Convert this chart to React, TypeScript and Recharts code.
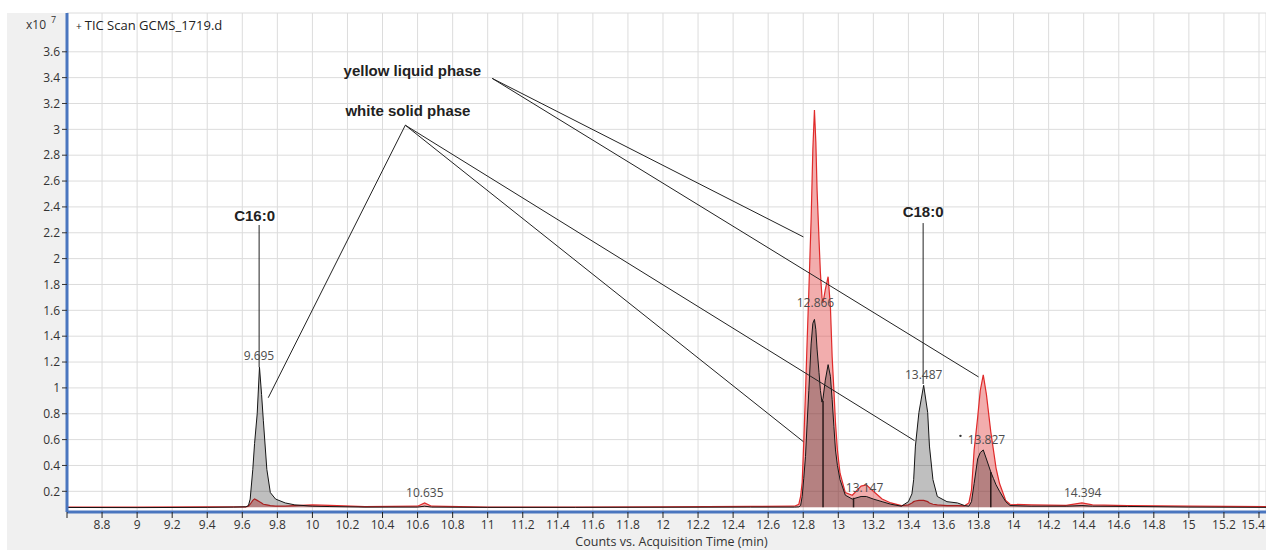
import React from 'react';
import {
  ComposedChart,
  Area,
  XAxis,
  YAxis,
  CartesianGrid,
  ReferenceLine,
  ReferenceDot,
} from 'recharts';

// acquisition time (min)
const times = [
  8.6, 9.0, 9.4, 9.55, 9.62, 9.635, 9.645, 9.66, 9.67, 9.685, 9.698, 9.71, 9.72, 9.74, 9.76,
  9.79, 9.845, 9.9, 10.0, 10.1, 10.3, 10.6, 10.64, 10.68, 11.0, 11.5, 12.0, 12.5, 12.75,
  12.775, 12.785, 12.794, 12.803, 12.813, 12.822, 12.832, 12.845, 12.855, 12.864, 12.872,
  12.879, 12.89, 12.898, 12.907, 12.913, 12.926, 12.942, 12.955, 12.965, 12.975, 12.984,
  12.995, 13.01, 13.04, 13.08, 13.13, 13.16, 13.2, 13.25, 13.3, 13.36, 13.4, 13.42, 13.43,
  13.44, 13.46, 13.487, 13.51, 13.52, 13.54, 13.565, 13.62, 13.68, 13.72, 13.745, 13.76,
  13.775, 13.795, 13.81, 13.827, 13.845, 13.87, 13.885, 13.9, 13.92, 13.955, 13.98, 14.1,
  14.3, 14.39, 14.45, 14.65, 15.0, 15.44,
];

// white solid phase (x10^7 counts)
const solidPhase = [
  0.075, 0.074, 0.076, 0.078, 0.08, 0.09, 0.14, 0.37, 0.57, 0.8, 1.16, 0.95, 0.75, 0.37, 0.19,
  0.14, 0.11, 0.095, 0.085, 0.082, 0.078, 0.078, 0.085, 0.078, 0.076, 0.076, 0.077, 0.078, 0.078,
  0.08, 0.09, 0.16, 0.3, 0.47, 0.72, 0.98, 1.34, 1.5, 1.53, 1.45,
  1.3, 1.12, 0.98, 0.89, 0.92, 1.06, 1.18, 1.09, 0.91, 0.7, 0.52,
  0.4, 0.29, 0.17, 0.14, 0.16, 0.16, 0.14, 0.12, 0.1, 0.085, 0.12, 0.18, 0.29,
  0.55, 0.81, 1.02, 0.81, 0.55, 0.29, 0.16, 0.12, 0.11, 0.09, 0.085, 0.12,
  0.26, 0.45, 0.5, 0.52, 0.45, 0.35, 0.3, 0.25, 0.2, 0.12, 0.09, 0.085,
  0.085, 0.09, 0.085, 0.083, 0.078, 0.076,
];

// yellow liquid phase (x10^7 counts)
const liquidPhase = [
  0.078, 0.078, 0.08, 0.079, 0.08, 0.085, 0.1, 0.13, 0.14, 0.13, 0.12, 0.11, 0.1, 0.095, 0.09,
  0.085, 0.085, 0.09, 0.095, 0.092, 0.082, 0.085, 0.11, 0.085, 0.078, 0.078, 0.08, 0.083, 0.085,
  0.1, 0.16, 0.27, 0.58, 0.97, 1.35, 1.75, 2.3, 2.85, 3.15, 2.9,
  2.53, 2.15, 1.89, 1.7, 1.66, 1.76, 1.86, 1.63, 1.24, 0.98, 0.73,
  0.52, 0.34, 0.19, 0.17, 0.24, 0.25, 0.2, 0.14, 0.11, 0.09, 0.095, 0.11, 0.12,
  0.125, 0.13, 0.13, 0.12, 0.11, 0.1, 0.095, 0.09, 0.09, 0.088, 0.11, 0.21,
  0.52, 0.77, 0.98, 1.1, 0.95, 0.66, 0.52, 0.38, 0.26, 0.13, 0.1, 0.095,
  0.092, 0.11, 0.095, 0.09, 0.085, 0.082,
];

const xTicks = [
  8.6, 8.8, 9, 9.2, 9.4, 9.6, 9.8, 10, 10.2, 10.4, 10.6, 10.8, 11, 11.2, 11.4, 11.6, 11.8, 12,
  12.2, 12.4, 12.6, 12.8, 13, 13.2, 13.4, 13.6, 13.8, 14, 14.2, 14.4, 14.6, 14.8, 15, 15.2, 15.4,
];
const yTicks = [
  0.2, 0.4, 0.6, 0.8, 1, 1.2, 1.4, 1.6, 1.8, 2, 2.2, 2.4, 2.6, 2.8, 3, 3.2, 3.4, 3.6,
];

// peak retention-time labels
const peakLabels = [
  { text: '9.695', t: 9.695, v: 1.245 },
  { text: '10.635', t: 10.641, v: 0.19 },
  { text: '12.866', t: 12.87, v: 1.66 },
  { text: '13.147', t: 13.15, v: 0.228 },
  { text: '13.487', t: 13.487, v: 1.1 },
  { text: '13.827', t: 13.845, v: 0.6 },
  { text: '14.394', t: 14.394, v: 0.19 },
];

// bold annotations
const callouts = [
  { text: 'yellow liquid phase', t: 10.57, v: 3.456 },
  { text: 'white solid phase', t: 10.545, v: 3.147 },
  { text: 'C16:0', t: 9.67, v: 2.33 },
  { text: 'C18:0', t: 13.484, v: 2.36 },
];

// leader lines [t1, v1, t2, v2]
const leaders = [
  [11.026, 3.394, 12.801, 2.168],
  [11.026, 3.394, 13.8, 1.085],
  [10.53, 3.032, 9.748, 0.924],
  [10.53, 3.032, 12.801, 0.584],
  [10.53, 3.032, 13.435, 0.592],
  [9.696, 2.26, 9.696, 1.16],
  [13.484, 2.275, 13.484, 1.03],
];

// integration split markers [t, top]
const splits = [
  [12.913, 0.9],
  [13.087, 0.15],
  [13.87, 0.35],
];

const chartData = times.map((t, i) => ({
  t,
  solid: solidPhase[i],
  liquid: liquidPhase[i],
}));

const BLUE = '#4a76bf';
const CHART_W = 1266;

// x tick label, kept inside the right edge for the last tick
const TimeTick = (props: any) => {
  const { x, y, payload } = props;
  const v = payload.value;
  if (v === 8.6) return null;
  const label = String(v);
  const nearEdge = x + 12 > CHART_W;
  return (
    <text
      x={nearEdge ? CHART_W - 1 : x}
      y={y}
      dy="0.71em"
      textAnchor={nearEdge ? 'end' : 'middle'}
      fill="#333"
      fontSize={12}
    >
      {label}
    </text>
  );
};

export default function App() {
  return (
    <div
      style={{
        position: 'fixed',
        left: 0,
        top: 0,
        width: CHART_W,
        height: 550,
        overflow: 'hidden',
        background: '#fff',
        fontFamily: '"Open Sans", sans-serif',
      }}
    >
      <div
        style={{
          position: 'absolute',
          left: 7,
          top: 13,
          width: 1259,
          height: 537,
          background: '#f0f0f0',
        }}
      />
      <div style={{ position: 'absolute', left: 0, top: 0, width: CHART_W, height: 550 }}>
        <ComposedChart
          width={CHART_W}
          height={550}
          data={chartData}
          margin={{ top: 13, right: 0, bottom: 0, left: 7 }}
        >
          <CartesianGrid fill="#fff" stroke="#dcdcdc" strokeWidth={1} />
          <XAxis
            dataKey="t"
            type="number"
            domain={[8.6, 15.44]}
            ticks={xTicks}
            interval={0}
            allowDataOverflow
            height={38}
            axisLine={{ stroke: BLUE, strokeWidth: 3 }}
            tickLine={{ stroke: '#222' }}
            tickSize={6}
            tick={<TimeTick />}
            label={{
              value: 'Counts vs. Acquisition Time (min)',
              position: 'insideBottom',
              offset: 4,
              dx: 5,
              fill: '#333',
              fontSize: 12.5,
            }}
          />
          <YAxis
            type="number"
            domain={[0.04, 3.9]}
            ticks={yTicks}
            interval={0}
            allowDataOverflow
            width={60}
            axisLine={{ stroke: BLUE, strokeWidth: 3 }}
            tickLine={{ stroke: '#333' }}
            tickSize={5}
            tick={{ fill: '#333', fontSize: 12 }}
          />
          <Area
            type="linear"
            dataKey="liquid"
            baseValue={0.076}
            stroke="#e02a2a"
            strokeWidth={1.2}
            fill="#e03c3c"
            fillOpacity={0.42}
            dot={false}
            activeDot={false}
            isAnimationActive={false}
          />
          <Area
            type="linear"
            dataKey="solid"
            baseValue={0.076}
            stroke="#151515"
            strokeWidth={1}
            fill="#000"
            fillOpacity={0.25}
            dot={false}
            activeDot={false}
            isAnimationActive={false}
          />
          {splits.map(([t, top], i) => (
            <ReferenceLine
              key={'s' + i}
              segment={[
                { x: t, y: 0.076 },
                { x: t, y: top },
              ]}
              stroke="#2a1a1a"
              strokeWidth={1.5}
            />
          ))}
          {leaders.map(([t1, v1, t2, v2], i) => (
            <ReferenceLine
              key={'l' + i}
              segment={[
                { x: t1, y: v1 },
                { x: t2, y: v2 },
              ]}
              stroke="#222"
              strokeWidth={1}
            />
          ))}
          {peakLabels.map((p) => (
            <ReferenceDot
              key={p.text}
              x={p.t}
              y={p.v}
              r={0}
              fill="none"
              stroke="none"
              label={{ value: p.text, position: 'center', fill: '#4d4d4d', fontSize: 12 }}
            />
          ))}
          <ReferenceDot x={13.697} y={0.629} r={1.2} fill="#333" stroke="none" />
          {callouts.map((c) => (
            <ReferenceDot
              key={c.text}
              x={c.t}
              y={c.v}
              r={0}
              fill="none"
              stroke="none"
              label={{
                value: c.text,
                position: 'center',
                fill: '#222',
                fontSize: 15,
                fontWeight: 'bold',
                fontFamily: '"Liberation Sans", Arial, sans-serif',
              }}
            />
          ))}
        </ComposedChart>
      </div>
      <div
        style={{
          position: 'absolute',
          left: 26,
          top: 17,
          fontSize: 12,
          color: '#333',
          lineHeight: '16px',
          whiteSpace: 'nowrap',
        }}
      >
        x10
      </div>
      <div
        style={{
          position: 'absolute',
          left: 51,
          top: 14,
          fontSize: 9,
          color: '#333',
          lineHeight: '12px',
        }}
      >
        7
      </div>
      <div
        style={{
          position: 'absolute',
          left: 76,
          top: 17,
          fontSize: 13,
          color: '#222',
          lineHeight: '16px',
          whiteSpace: 'nowrap',
        }}
      >
        <span style={{ fontSize: 10, marginRight: 3 }}>+</span>TIC Scan GCMS_1719.d
      </div>
    </div>
  );
}
